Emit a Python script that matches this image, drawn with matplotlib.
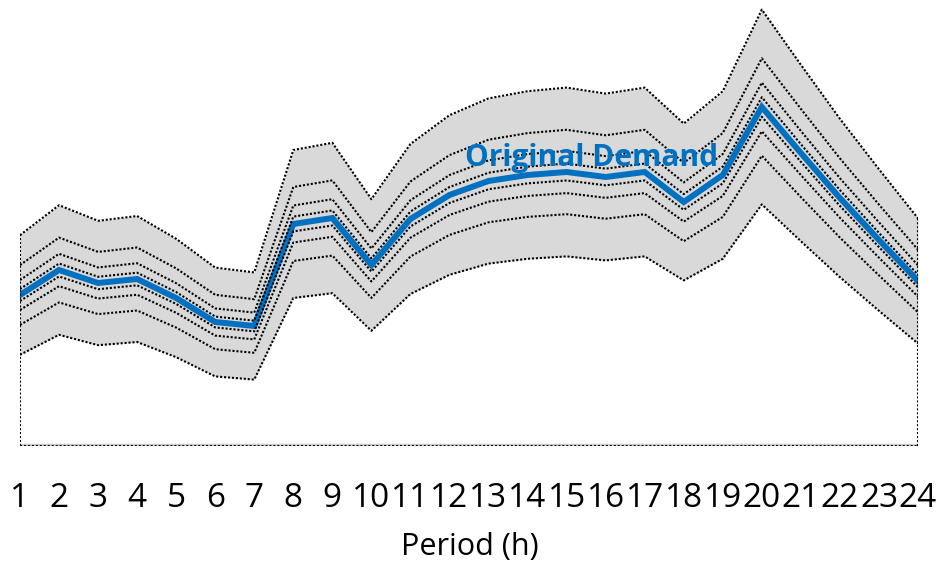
import numpy as np
import matplotlib.pyplot as plt

# demanda original por periodo (unidades arbitrarias)
periods = list(range(1, 25))
demand = [299, 324, 311, 315, 296, 272, 268, 370, 376, 329, 375, 399,
          413, 419, 422, 417, 422, 392, 419, 487, 441, 396, 354, 313]
# niveles de los escenarios (+/- fraccion de la demanda)
levels = [0.02, 0.05, 0.10, 0.20]
label_txt = 'Original Demand'

blue = '#0070C0'
band_gray = '#d9d9d9'
dots = (0, (1, 0.9))
dot_lw = 1.5

x = np.array(periods)
d = np.array(demand, dtype=float)
upper = d * (1 + levels[-1])
lower = d * (1 - levels[-1])

fig = plt.figure(figsize=(9.42, 5.69), dpi=100)
ax = fig.add_axes([20/942, 1 - 446/569, 898/942, 446/569])
ymin, ymax = 148, 594

ax.fill_between(x, lower, upper, color=band_gray, lw=0, zorder=1)
ax.plot(x, d, color=blue, lw=4.3, solid_joinstyle='miter', zorder=3)
for k in levels:
    ax.plot(x, d * (1 + k), color='black', lw=dot_lw, ls=dots, zorder=4)
    ax.plot(x, d * (1 - k), color='black', lw=dot_lw, ls=dots, zorder=4)
# bordes verticales y base del area
ax.plot([x[0], x[0]], [ymin, upper[0]], color='black', lw=dot_lw, ls=dots, zorder=4)
ax.plot([x[-1], x[-1]], [ymin, upper[-1]], color='black', lw=dot_lw, ls=dots, zorder=4)
ax.axhline(ymin + 1, color='#d0d0d0', lw=2.5, zorder=2)
ax.plot([x[0], x[-1]], [ymin, ymin], color='black', lw=dot_lw, ls=dots, zorder=4)

ax.text(15.65, 436, label_txt, color=blue, fontsize=21.5, fontweight='bold',
        family='Open Sans', ha='center', va='center', zorder=5)

ax.set_xlim(1, 24)
ax.set_ylim(ymin, ymax)
ax.set_xticks(periods)
ax.set_xticklabels([str(p) for p in periods], family='Open Sans', fontsize=24)
ax.set_yticks([])
ax.tick_params(axis='x', length=0, pad=26)
for s in ax.spines.values():
    s.set_visible(False)

fig.text(470/942, 1 - 555/569, 'Period (h)', family='Open Sans', fontsize=22,
         ha='center', va='baseline')

fig.savefig('out.png', dpi=100)
